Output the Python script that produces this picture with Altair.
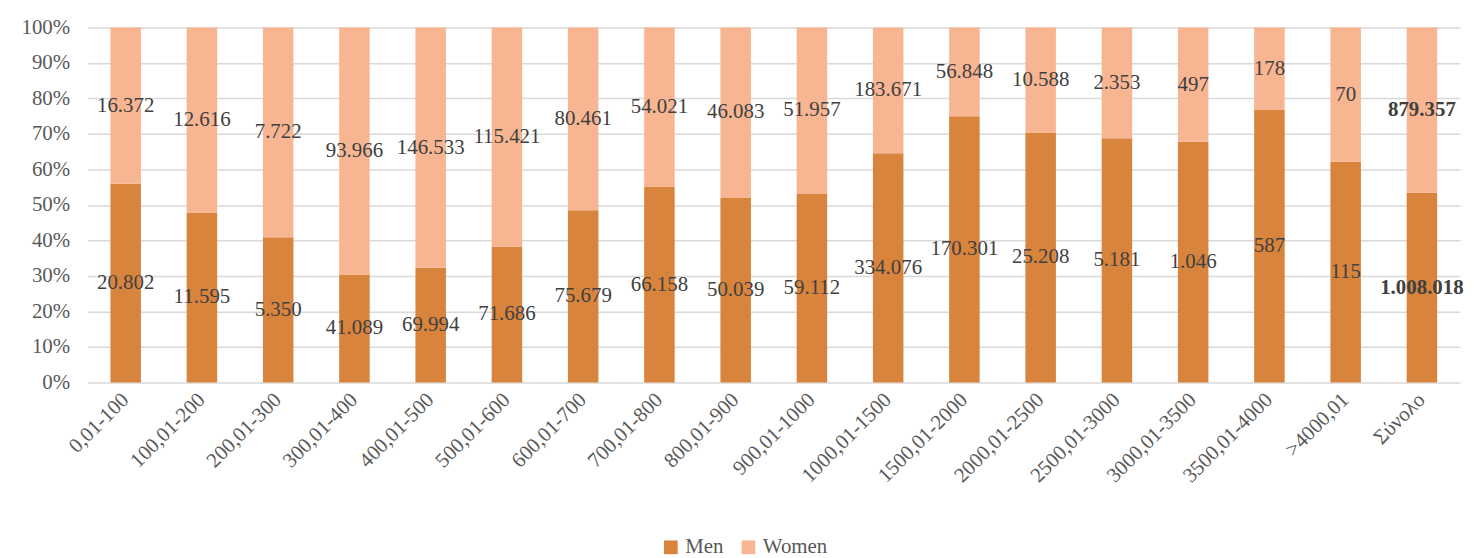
import altair as alt
import pandas as pd

categories = ["0,01-100", "100,01-200", "200,01-300", "300,01-400", "400,01-500",
              "500,01-600", "600,01-700", "700,01-800", "800,01-900", "900,01-1000",
              "1000,01-1500", "1500,01-2000", "2000,01-2500", "2500,01-3000",
              "3000,01-3500", "3500,01-4000", ">4000,01", "Σύνολο"]
men = [20802, 11595, 5350, 41089, 69994, 71686, 75679, 66158, 50039, 59112,
       334076, 170301, 25208, 5181, 1046, 587, 115, 1008018]
women = [16372, 12616, 7722, 93966, 146533, 115421, 80461, 54021, 46083, 51957,
         183671, 56848, 10588, 2353, 497, 178, 70, 879357]
series = ["Men", "Women"]
colors = ["#D9843D", "#F8B592"]
y_ticks = [0.0, 0.1, 0.2, 0.3, 0.4, 0.5, 0.6, 0.7, 0.8, 0.9, 1.0]

rows = []
for i, c in enumerate(categories):
    for j, (s, vals) in enumerate(zip(series, [men, women])):
        v = vals[i]
        rows.append({
            "cat": c, "sex": s, "value": v, "ord": j,
            "label": f"{v:,}".replace(",", "."),
            "bold": c == "Σύνολο",
        })
df = pd.DataFrame(rows)

FONT = "Liberation Serif"
LBL = dict(labelFont=FONT, labelFontSize=21, labelColor="#595959")

x_axis = alt.Axis(labelAngle=-45, labelAlign="right", labelBaseline="middle",
                  labelPadding=14, labelOverlap=False, grid=False,
                  ticks=False, domain=False, **LBL)
y_axis = alt.Axis(format=".0%", values=y_ticks, labelOverlap=False,
                  labelFlush=False, labelPadding=18, grid=True,
                  gridColor="#D9D9D9", gridWidth=1.5,
                  ticks=False, domain=False, **LBL)
x_scale = alt.Scale(paddingInner=0.6, paddingOuter=0.3)
y_scale = alt.Scale(domain=[0, 1])

base = alt.Chart(df)

bars = base.mark_bar().encode(
    x=alt.X("cat:N", sort=categories, title=None, scale=x_scale, axis=x_axis),
    y=alt.Y("value:Q", stack="normalize", title=None, scale=y_scale, axis=y_axis),
    color=alt.Color("sex:N", scale=alt.Scale(domain=series, range=colors),
                    legend=alt.Legend(title=None, orient="none", direction="horizontal",
                                      legendX=576, legendY=512, symbolType="square",
                                      symbolSize=190, symbolStrokeWidth=0,
                                      columnPadding=14, symbolOffset=0, **LBL)),
    order=alt.Order("ord:Q"),
)

text_base = base.transform_stack(
    stack="value", groupby=["cat"], as_=["y0", "y1"], offset="normalize",
    sort=[alt.SortField("ord", order="ascending")],
).transform_calculate(mid="(datum.y0 + datum.y1) / 2")

txt_norm = text_base.transform_filter("!datum.bold").mark_text(
    font=FONT, fontSize=21, color="#404040", baseline="middle", align="center"
).encode(x=alt.X("cat:N", sort=categories, title=None, scale=x_scale, axis=x_axis),
         y=alt.Y("mid:Q", title=None, scale=y_scale, axis=y_axis), text="label:N")

txt_bold = text_base.transform_filter("datum.bold").mark_text(
    font=FONT, fontSize=21, color="#404040", baseline="middle", align="center",
    fontWeight="bold"
).encode(x=alt.X("cat:N", sort=categories, title=None, scale=x_scale, axis=x_axis),
         y=alt.Y("mid:Q", title=None, scale=y_scale, axis=y_axis), text="label:N")

chart = alt.layer(bars, txt_norm, txt_bold).properties(
    width=1380, height=357,
    autosize=alt.AutoSizeParams(type="none"),
    padding={"left": 80, "top": 18, "right": 6, "bottom": 175},
).configure_view(stroke=None).configure_axis(**LBL).configure_legend(**LBL)

chart.save("out.html", embed_options={"renderer": "svg", "actions": False})
